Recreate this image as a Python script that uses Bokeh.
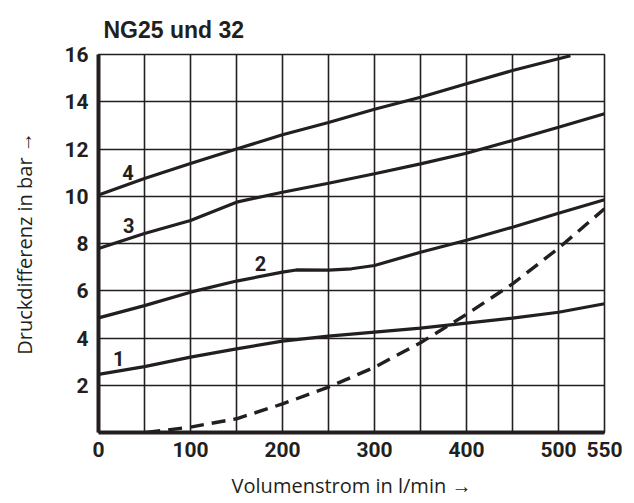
from bokeh.plotting import figure
from bokeh.models import Range1d, FixedTicker, ColumnDataSource
from bokeh.core.properties import value
from bokeh.embed import file_html
from bokeh.resources import INLINE

# ---- data ----
flow = [0, 50, 100, 150, 200, 250, 300, 350, 400, 450, 500, 550]
curve1 = [2.46, 2.79, 3.19, 3.54, 3.87, 4.08, 4.25, 4.42, 4.63, 4.84, 5.09, 5.45]

flow2 = [0, 50, 100, 150, 200, 215, 250, 275, 300, 350, 400, 450, 500, 550]
curve2 = [4.85, 5.37, 5.94, 6.41, 6.79, 6.88, 6.87, 6.93, 7.07, 7.63, 8.14, 8.69, 9.28, 9.85]

curve3 = [7.79, 8.42, 8.97, 9.75, 10.17, 10.55, 10.95, 11.37, 11.82, 12.36, 12.92, 13.49]

flow4 = [0, 50, 100, 150, 200, 250, 300, 350, 400, 450, 500, 513]
curve4 = [10.05, 10.75, 11.39, 12.0, 12.6, 13.12, 13.68, 14.19, 14.76, 15.32, 15.82, 15.95]

flow_dash = [52, 100, 150, 200, 250, 300, 350, 400, 450, 500, 550]
curve_dash = [0.0, 0.23, 0.58, 1.21, 1.92, 2.76, 3.8, 5.0, 6.29, 7.8, 9.47]

label_text = ["1", "2", "3", "4"]
label_x = [22, 176, 33, 32]
label_y = [3.13, 7.15, 8.76, 11.0]

x_ticks = [0, 100, 200, 300, 400, 500, 550]
y_ticks = [2, 4, 6, 8, 10, 12, 14, 16]
x_grid = [50, 100, 150, 200, 250, 300, 350, 400, 450, 500]
y_grid = [2, 4, 6, 8, 10, 12, 14]

title_text = "NG25 und 32"
x_label = "Volumenstrom in l/min \u2192"
y_label = "Druckdifferenz in bar \u2192"

INK = "#231f20"
TICK_FONT = "Roboto"
LABEL_FONT = "Open Sans"

p = figure(width=634, height=503, output_backend="svg", toolbar_location=None,
           x_range=Range1d(0, 550), y_range=Range1d(0, 16),
           min_border_left=98, min_border_right=30, min_border_top=54, min_border_bottom=71,
           background_fill_color="white", border_fill_color="white")

p.title.text = title_text
p.title.text_font = "Liberation Sans"
p.title.text_font_size = "23px"
p.title.text_font_style = "bold"
p.title.text_color = INK
p.title.align = "left"
p.title.offset = 5
p.title.standoff = 24

xb = p.below[0]
yl = p.left[0]

for ax in (xb, yl):
    ax.major_tick_out = 0
    ax.major_tick_in = 0
    ax.minor_tick_out = 0
    ax.minor_tick_in = 0
    ax.axis_line_width = 4
    ax.axis_line_color = INK
    ax.major_label_text_font = TICK_FONT
    ax.major_label_text_font_style = "bold"
    ax.major_label_text_font_size = "21px"
    ax.major_label_text_color = INK
    ax.axis_label_text_font = LABEL_FONT
    ax.axis_label_text_font_style = "normal"
    ax.axis_label_text_font_size = "20px"
    ax.axis_label_text_color = INK

xb.ticker = FixedTicker(ticks=x_ticks)
yl.ticker = FixedTicker(ticks=y_ticks)
xb.axis_label = x_label
yl.axis_label = y_label
xb.major_label_standoff = 9
yl.major_label_standoff = 10
xb.axis_label_standoff = 12
yl.axis_label_standoff = 23

p.xgrid.ticker = FixedTicker(ticks=x_grid)
p.ygrid.ticker = FixedTicker(ticks=y_grid)
for g in (p.xgrid, p.ygrid):
    g.grid_line_color = INK
    g.grid_line_width = 1.6
    g.grid_line_alpha = 1.0

p.outline_line_color = INK
p.outline_line_width = 1.6
p.outline_line_alpha = 1.0

lw = 3.2
p.line(flow, curve1, line_color=INK, line_width=lw)
p.line(flow2, curve2, line_color=INK, line_width=lw)
p.line(flow, curve3, line_color=INK, line_width=lw)
p.line(flow4, curve4, line_color=INK, line_width=lw)
p.line(flow_dash, curve_dash, line_color=INK, line_width=3.4, line_dash="14 8")

src = ColumnDataSource(dict(x=label_x, y=label_y, t=label_text))
p.text(x="x", y="y", text="t", source=src, text_align="center", text_baseline="middle",
       text_font=value(TICK_FONT), text_font_style="bold", text_font_size="20px",
       text_color=INK)

open("out.html", "w").write(file_html(p, INLINE))
